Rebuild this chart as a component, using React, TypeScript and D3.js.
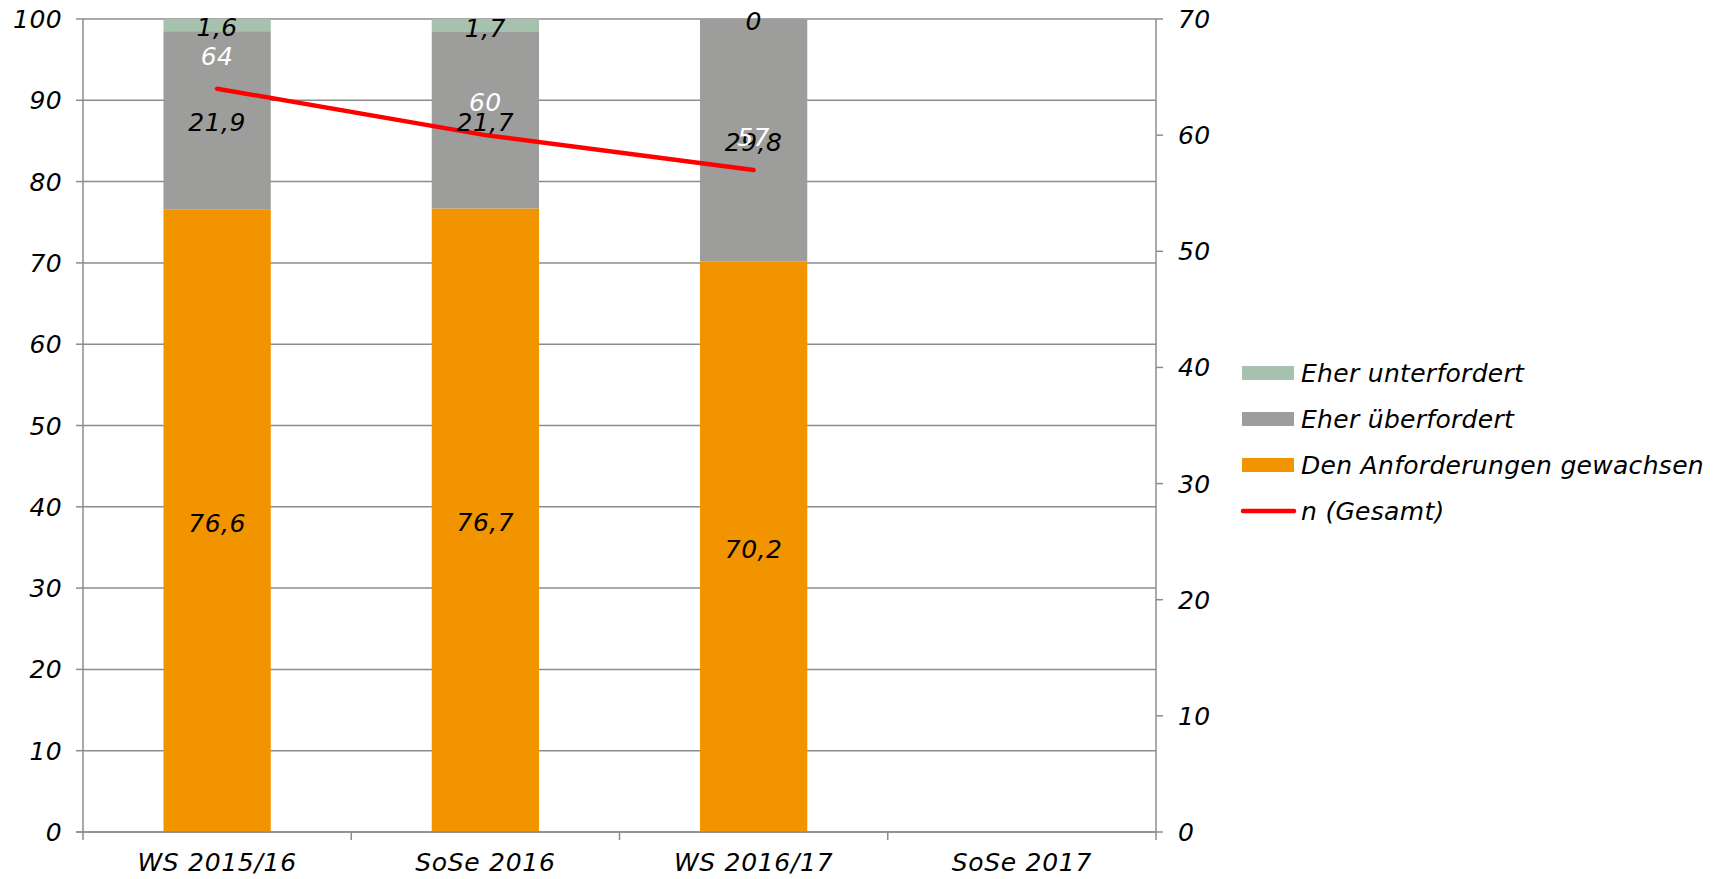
import React from "react";
import * as d3 from "d3";

const categories = ["WS 2015/16", "SoSe 2016", "WS 2016/17", "SoSe 2017"];
const gewachsen = [76.6, 76.7, 70.2];
const ueberfordert = [21.9, 21.7, 29.8];
const unterfordert = [1.6, 1.7, 0];
const nGesamt = [64, 60, 57];
const leftTicks = [0, 10, 20, 30, 40, 50, 60, 70, 80, 90, 100];
const rightTicks = [0, 10, 20, 30, 40, 50, 60, 70];

const seriesKeys = ["gewachsen", "ueberfordert", "unterfordert"];
const seriesNames: Record<string, string> = {
  gewachsen: "Den Anforderungen gewachsen",
  ueberfordert: "Eher überfordert",
  unterfordert: "Eher unterfordert",
};
const colors: Record<string, string> = {
  gewachsen: "#F29400",
  ueberfordert: "#9D9D9C",
  unterfordert: "#A6C1AE",
};

const W = 1721;
const H = 879;
const left = 83;
const right = 1156;
const top = 19;
const bottom = 832;
const FONT = "'DejaVu Sans', sans-serif";
const FS = 25;
const GRID = "#8c8c8c";

const fmt = (v: number) => String(v).replace(".", ",");

export default function App() {
  const x = d3.scaleBand<string>().domain(categories).range([left, right]).paddingInner(0.6).paddingOuter(0.3);
  const step = x.step();
  const yL = d3.scaleLinear().domain([0, 100]).range([bottom, top]);
  const yR = d3.scaleLinear().domain([0, 70]).range([bottom, top]);

  const rows = gewachsen.map((_, i) => ({
    cat: categories[i],
    gewachsen: gewachsen[i],
    ueberfordert: ueberfordert[i],
    unterfordert: unterfordert[i],
  }));
  const stacked = d3.stack<any>().keys(seriesKeys)(rows);

  const center = (c: string) => (x(c) ?? 0) + x.bandwidth() / 2;
  const linePts = nGesamt.map((v, i) => [center(categories[i]), yR(v)] as [number, number]);
  const linePath = d3.line()(linePts) ?? "";

  const boundaries = d3.range(categories.length + 1).map((i) => left + i * step);

  const legendItems = ["unterfordert", "ueberfordert", "gewachsen"];
  const legendY = [373, 419, 465];

  return (
    <svg width={W} height={H} style={{ position: "absolute", left: 0, top: 0, background: "#fff" }}>
      <g fontFamily={FONT} fontStyle="italic" fontSize={FS}>
        {leftTicks.map((t) => (
          <line key={"g" + t} x1={left} x2={right} y1={yL(t)} y2={yL(t)} stroke={GRID} strokeWidth={1.5} />
        ))}
        {stacked.map((s) =>
          s.map((d, i) => (
            <rect
              key={s.key + i}
              x={x(d.data.cat)}
              width={x.bandwidth()}
              y={yL(Math.min(d[1], 100))}
              height={Math.max(0, yL(d[0]) - yL(Math.min(d[1], 100)))}
              fill={colors[s.key]}
            />
          ))
        )}
        <line x1={left} x2={left} y1={top} y2={bottom} stroke={GRID} strokeWidth={1.5} />
        <line x1={right} x2={right} y1={top} y2={bottom} stroke={GRID} strokeWidth={1.5} />
        <line x1={left - 7} x2={right} y1={bottom} y2={bottom} stroke={GRID} strokeWidth={1.5} />
        {leftTicks.map((t) => (
          <g key={"l" + t}>
            <line x1={left - 7} x2={left} y1={yL(t)} y2={yL(t)} stroke={GRID} strokeWidth={1.5} />
            <text x={62} y={yL(t)} dy="0.36em" textAnchor="end" letterSpacing={0.4}>{t}</text>
          </g>
        ))}
        {rightTicks.map((t) => (
          <g key={"r" + t}>
            <line x1={right} x2={right + 7} y1={yR(t)} y2={yR(t)} stroke={GRID} strokeWidth={1.5} />
            <text x={1178} y={yR(t)} dy="0.36em" textAnchor="start" letterSpacing={0.4}>{t}</text>
          </g>
        ))}
        {boundaries.map((b, i) => (
          <line key={"b" + i} x1={b} x2={b} y1={bottom} y2={bottom + 8} stroke={GRID} strokeWidth={1.5} />
        ))}
        {categories.map((c) => (
          <text key={"c" + c} x={center(c)} y={871} textAnchor="middle" letterSpacing={0.7}>{c}</text>
        ))}
        <path d={linePath} fill="none" stroke="#FF0000" strokeWidth={4.5} strokeLinecap="round" strokeLinejoin="round" />
        {stacked.map((s) =>
          s.map((d, i) => (
            <text
              key={"t" + s.key + i}
              x={center(d.data.cat)}
              y={(yL(d[0]) + yL(Math.min(d[1], 100))) / 2 + 2}
              dy="0.36em"
              textAnchor="middle"
              fill="#000"
              letterSpacing={0.5}
            >
              {fmt((d.data as any)[s.key])}
            </text>
          ))
        )}
        {nGesamt.map((v, i) => (
          <text key={"n" + i} x={center(categories[i])} y={yR(v) - 33} dy="0.36em" textAnchor="middle" fill="#fff" letterSpacing={0.5}>
            {v}
          </text>
        ))}
        {legendItems.map((k, i) => (
          <g key={"lg" + k}>
            <rect x={1242} y={legendY[i] - 7} width={52} height={14} fill={colors[k]} />
            <text x={1301} y={legendY[i]} dy="0.36em" letterSpacing={0.3}>{seriesNames[k]}</text>
          </g>
        ))}
        <line x1={1243} x2={1294} y1={511} y2={511} stroke="#FF0000" strokeWidth={4.5} strokeLinecap="round" />
        <text x={1301} y={511} dy="0.36em" letterSpacing={0.3}>n (Gesamt)</text>
      </g>
    </svg>
  );
}
